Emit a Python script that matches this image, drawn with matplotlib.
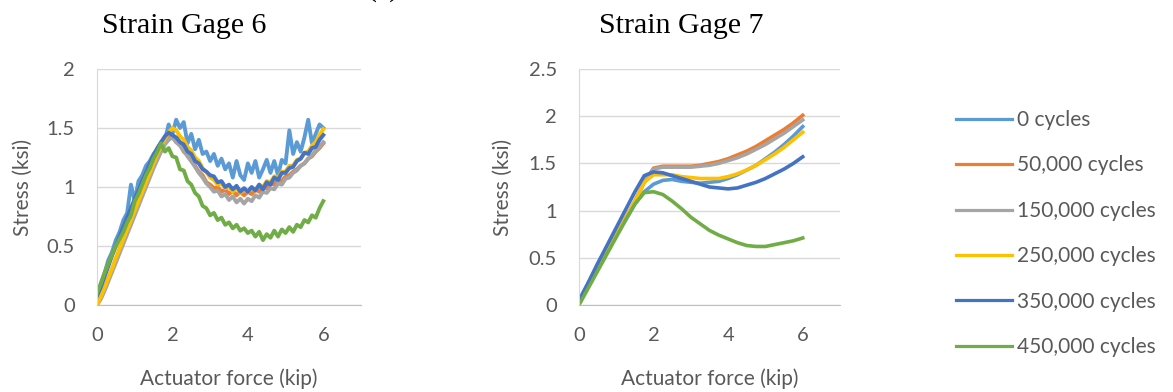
import matplotlib
matplotlib.use("Agg")
import matplotlib.pyplot as plt

plt.rcParams['font.family'] = ['Lato', 'DejaVu Sans']

labels = ['0 cycles', '50,000 cycles', '150,000 cycles', '250,000 cycles',
          '350,000 cycles', '450,000 cycles']
colors = ['#5B9BD5', '#ED7D31', '#A5A5A5', '#FFC000', '#4472C4', '#70AD47']

# Strain Gage 6 (noisy readings)
x6 = [0.0, 0.1, 0.2, 0.3, 0.4, 0.5, 0.6, 0.7, 0.8, 0.9,
      1.0, 1.1, 1.2, 1.3, 1.4, 1.5, 1.6, 1.7, 1.8, 1.9,
      2.0, 2.1, 2.2, 2.3, 2.4, 2.5, 2.6, 2.7, 2.8, 2.9,
      3.0, 3.1, 3.2, 3.3, 3.4, 3.5, 3.6, 3.7, 3.8, 3.9,
      4.0, 4.1, 4.2, 4.3, 4.4, 4.5, 4.6, 4.7, 4.8, 4.9,
      5.0, 5.1, 5.2, 5.3, 5.4, 5.5, 5.6, 5.7, 5.8, 5.9, 6.0]
g6_0 = [0.05, 0.18, 0.27, 0.38, 0.45, 0.55, 0.62, 0.72, 0.78, 1.02,
        0.88, 1.05, 1.10, 1.18, 1.22, 1.28, 1.32, 1.38, 1.40, 1.53,
        1.45, 1.57, 1.50, 1.55, 1.37, 1.45, 1.32, 1.40, 1.28, 1.30,
        1.22, 1.28, 1.18, 1.24, 1.15, 1.20, 1.08, 1.22, 1.10, 1.06,
        1.20, 1.12, 1.22, 1.08, 1.15, 1.23, 1.12, 1.22, 1.10, 1.23,
        1.20, 1.48, 1.28, 1.38, 1.30, 1.42, 1.57, 1.37, 1.45, 1.53, 1.50]
g6_50k = [0.0, 0.06, 0.14, 0.22, 0.30, 0.38, 0.47, 0.55, 0.63, 0.71,
          0.79, 0.87, 0.95, 1.03, 1.11, 1.19, 1.26, 1.32, 1.38, 1.42,
          1.43, 1.38, 1.36, 1.30, 1.27, 1.22, 1.18, 1.13, 1.10, 1.04,
          1.02, 0.99, 1.00, 0.96, 0.98, 0.94, 0.97, 0.93, 0.96, 0.93,
          0.96, 0.94, 0.98, 0.96, 1.00, 0.99, 1.03, 1.02, 1.06, 1.05,
          1.09, 1.10, 1.13, 1.15, 1.18, 1.20, 1.24, 1.26, 1.30, 1.33, 1.37]
g6_150k = [0.0, 0.05, 0.12, 0.20, 0.28, 0.36, 0.44, 0.52, 0.60, 0.68,
           0.76, 0.84, 0.92, 1.00, 1.08, 1.16, 1.23, 1.30, 1.36, 1.40,
           1.42, 1.38, 1.35, 1.31, 1.26, 1.22, 1.17, 1.12, 1.08, 1.03,
           1.00, 0.96, 0.97, 0.92, 0.94, 0.89, 0.92, 0.87, 0.90, 0.86,
           0.90, 0.88, 0.93, 0.91, 0.96, 0.95, 0.99, 0.98, 1.03, 1.02,
           1.07, 1.08, 1.12, 1.14, 1.18, 1.20, 1.24, 1.27, 1.31, 1.34, 1.38]
g6_250k = [0.0, 0.07, 0.15, 0.23, 0.31, 0.40, 0.48, 0.56, 0.64, 0.72,
           0.80, 0.88, 0.96, 1.04, 1.12, 1.20, 1.28, 1.35, 1.41, 1.46,
           1.50, 1.48, 1.43, 1.40, 1.34, 1.31, 1.25, 1.22, 1.16, 1.13,
           1.08, 1.06, 1.02, 1.03, 0.99, 1.00, 0.96, 0.99, 0.95, 0.98,
           0.96, 0.99, 0.97, 1.02, 1.00, 1.05, 1.04, 1.09, 1.08, 1.13,
           1.13, 1.18, 1.18, 1.23, 1.24, 1.29, 1.30, 1.35, 1.38, 1.44, 1.49]
g6_350k = [0.08, 0.15, 0.24, 0.33, 0.42, 0.50, 0.58, 0.66, 0.74, 0.82,
           0.90, 0.97, 1.05, 1.12, 1.20, 1.27, 1.33, 1.38, 1.43, 1.46,
           1.44, 1.42, 1.38, 1.36, 1.30, 1.28, 1.22, 1.20, 1.15, 1.13,
           1.10, 1.09, 1.04, 1.05, 1.00, 1.02, 0.98, 1.01, 0.96, 0.99,
           0.96, 1.00, 0.97, 1.02, 0.98, 1.04, 1.02, 1.08, 1.06, 1.12,
           1.12, 1.16, 1.17, 1.22, 1.24, 1.29, 1.28, 1.33, 1.34, 1.40, 1.44]
g6_450k = [0.10, 0.18, 0.27, 0.35, 0.43, 0.50, 0.56, 0.62, 0.70, 0.76,
           0.88, 0.94, 1.02, 1.10, 1.16, 1.24, 1.30, 1.37, 1.30, 1.33,
           1.26, 1.25, 1.15, 1.14, 1.05, 1.02, 0.95, 0.92, 0.84, 0.82,
           0.76, 0.78, 0.72, 0.74, 0.68, 0.70, 0.65, 0.68, 0.63, 0.65,
           0.61, 0.63, 0.58, 0.62, 0.55, 0.60, 0.57, 0.63, 0.58, 0.64,
           0.61, 0.66, 0.62, 0.68, 0.66, 0.72, 0.70, 0.76, 0.74, 0.82, 0.88]

# Strain Gage 7
x7 = [0.0, 0.25, 0.5, 0.75, 1.0, 1.25, 1.5, 1.75, 2.0, 2.25, 2.5, 2.75,
      3.0, 3.25, 3.5, 3.75, 4.0, 4.25, 4.5, 4.75, 5.0, 5.25, 5.5, 5.75, 6.0]
g7_0 = [0.02, 0.20, 0.38, 0.56, 0.73, 0.90, 1.07, 1.20, 1.28, 1.32, 1.33, 1.31,
        1.30, 1.29, 1.30, 1.31, 1.34, 1.38, 1.43, 1.48, 1.55, 1.62, 1.70, 1.79, 1.89]
g7_50k = [0.02, 0.20, 0.38, 0.56, 0.74, 0.92, 1.10, 1.30, 1.45, 1.47, 1.47, 1.47,
          1.47, 1.48, 1.50, 1.52, 1.55, 1.59, 1.63, 1.68, 1.74, 1.80, 1.86, 1.93, 2.01]
g7_150k = [0.02, 0.20, 0.38, 0.56, 0.74, 0.92, 1.10, 1.30, 1.44, 1.46, 1.46, 1.46,
           1.46, 1.47, 1.48, 1.50, 1.53, 1.56, 1.60, 1.65, 1.70, 1.76, 1.82, 1.89, 1.96]
g7_250k = [0.02, 0.20, 0.38, 0.56, 0.74, 0.92, 1.10, 1.30, 1.38, 1.38, 1.38, 1.36,
           1.35, 1.34, 1.34, 1.34, 1.36, 1.39, 1.43, 1.48, 1.54, 1.60, 1.67, 1.75, 1.83]
g7_350k = [0.05, 0.24, 0.44, 0.63, 0.82, 1.01, 1.20, 1.37, 1.41, 1.40, 1.37, 1.34,
           1.31, 1.28, 1.25, 1.24, 1.23, 1.24, 1.27, 1.30, 1.34, 1.39, 1.44, 1.50, 1.57]
g7_450k = [0.0, 0.18, 0.36, 0.54, 0.72, 0.90, 1.07, 1.19, 1.20, 1.17, 1.10, 1.02,
           0.93, 0.86, 0.79, 0.74, 0.70, 0.66, 0.63, 0.62, 0.62, 0.64, 0.66, 0.68, 0.71]

gage6 = [g6_0, g6_50k, g6_150k, g6_250k, g6_350k, g6_450k]
gage7 = [g7_0, g7_50k, g7_150k, g7_250k, g7_350k, g7_450k]

W, H = 1173, 392
fig = plt.figure(figsize=(W / 100, H / 100), dpi=100)
ax1 = fig.add_axes([97 / W, 87 / H, 264 / W, 236 / H])
ax2 = fig.add_axes([579 / W, 87 / H, 261 / W, 236 / H])

txt = '#595959'
for ax, x, series, ymax, lw in [(ax1, x6, gage6, 2.0, 2.8), (ax2, x7, gage7, 2.5, 2.6)]:
    for y, c, lab in zip(series, colors, labels):
        ax.plot(x, y, color=c, lw=lw, label=lab)
    ax.set_xlim(0, 7)
    ax.set_ylim(0, ymax)
    ax.set_xticks([0, 2, 4, 6])
    n = int(ymax / 0.5) + 1
    ax.set_yticks([i * 0.5 for i in range(n)])
    ax.set_yticklabels(['0', '0.5', '1', '1.5', '2', '2.5'][:n])
    ax.grid(axis='y', color='#D9D9D9', lw=1)
    ax.set_axisbelow(True)
    for s in ['top', 'right']:
        ax.spines[s].set_visible(False)
    ax.spines['left'].set_color('#D9D9D9')
    ax.spines['bottom'].set_color('#BFBFBF')
    ax.tick_params(length=0, labelsize=14.5, labelcolor=txt, pad=16)
    ax.set_xlabel('Actuator force (kip)', fontsize=15, color=txt)
    ax.set_ylabel('Stress (ksi)', fontsize=15, color=txt)
    ax.xaxis.set_label_coords(0.5, -0.27)

ax1.yaxis.set_label_coords(-0.242, 0.5)
ax2.yaxis.set_label_coords(-0.253, 0.5)

fig.text(184 / W, 1 - 33 / H, 'Strain Gage 6', family='Liberation Serif',
         fontsize=21.5, ha='center', va='baseline')
fig.text(681 / W, 1 - 33 / H, 'Strain Gage 7', family='Liberation Serif',
         fontsize=21.5, ha='center', va='baseline')
fig.text(383 / W, 1 + 4 / H, '(a)', family='Liberation Serif',
         fontsize=21.5, ha='center', va='baseline')

h, l = ax2.get_legend_handles_labels()
leg = fig.legend(h, l, loc='upper left', bbox_to_anchor=(956 / W, 1 - 110 / H),
                 frameon=False, fontsize=15, handlelength=2.7, handletextpad=0.25,
                 labelspacing=1.22, borderpad=0, borderaxespad=0)
for t in leg.get_texts():
    t.set_color(txt)
for ln in leg.get_lines():
    ln.set_linewidth(2.3)

fig.savefig('out.png', dpi=100)
